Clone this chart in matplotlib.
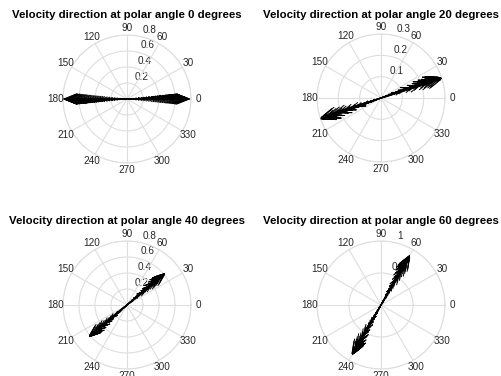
import numpy as np
import matplotlib.pyplot as plt

plt.rcParams['font.family'] = ['Liberation Sans', 'DejaVu Sans']

# polar angle of each panel and radial axis setup
polar_angles = [0, 20, 40, 60]
r_max = [0.8, 0.3, 0.8, 1.0]
r_ticks = [[0.2, 0.4, 0.6, 0.8], [0.1, 0.2, 0.3], [0.2, 0.4, 0.6, 0.8], [0.5, 1.0]]
r_ticklabels = [["0.2", "0.4", "0.6", "0.8"], ["0.1", "0.2", "0.3"],
                ["0.2", "0.4", "0.6", "0.8"], ["0.5", "1"]]
theta_ticks = [0, 30, 60, 90, 120, 150, 180, 210, 240, 270, 300, 330]

# velocity vectors: magnitude and direction (deg)
mag_0 = [0.78, 0.77, 0.76, 0.75, 0.74, 0.72, 0.71, 0.70, 0.68, 0.66, 0.64, 0.62, 0.60, 0.58,
         0.55, 0.52, 0.50, 0.47, 0.44, 0.41, 0.38, 0.34, 0.30, 0.26, 0.22, 0.18, 0.14, 0.10,
         0.06, 0.03,
         0.79, 0.78, 0.77, 0.75, 0.74, 0.73, 0.71, 0.69, 0.67, 0.65, 0.63, 0.61, 0.58, 0.56,
         0.53, 0.50, 0.47, 0.44, 0.41, 0.38, 0.35, 0.31, 0.27, 0.23, 0.19, 0.15, 0.11, 0.07,
         0.04]
dir_0 = [0] * 30 + [180] * 29

mag_20 = [0.30, 0.295, 0.29, 0.285, 0.28, 0.27, 0.26, 0.25, 0.24, 0.23, 0.21, 0.20, 0.18,
          0.17, 0.15, 0.13, 0.11, 0.09, 0.07, 0.05, 0.03,
          0.30, 0.295, 0.29, 0.28, 0.27, 0.26, 0.25, 0.235, 0.22, 0.21, 0.19, 0.18, 0.16,
          0.14, 0.12, 0.10, 0.08, 0.06, 0.04, 0.02]
dir_20 = [18, 19, 17, 20, 18, 21, 19, 17, 20, 18, 21, 19, 17, 20, 18, 22, 19, 17, 21, 20, 18,
          199, 198, 200, 197, 199, 201, 198, 200, 197, 199, 201, 198, 200, 197, 199, 202, 198,
          200, 197, 199]

mag_40 = [0.61, 0.60, 0.58, 0.57, 0.55, 0.53, 0.51, 0.49, 0.47, 0.44, 0.41, 0.38, 0.35,
          0.31, 0.27, 0.23, 0.19, 0.15, 0.11, 0.07,
          0.61, 0.60, 0.59, 0.57, 0.55, 0.53, 0.51, 0.48, 0.46, 0.43, 0.40, 0.37, 0.34,
          0.30, 0.26, 0.22, 0.18, 0.14, 0.10, 0.06]
dir_40 = [40, 39, 41, 38, 40, 42, 39, 41, 38, 40, 42, 39, 41, 40, 38, 42, 39, 41, 40, 39,
          220, 219, 221, 218, 220, 222, 219, 221, 218, 220, 222, 219, 221, 220, 218, 222, 219,
          221, 220, 219]

mag_60 = [0.89, 0.87, 0.85, 0.83, 0.81, 0.79, 0.77, 0.74, 0.71, 0.68, 0.64, 0.60, 0.55,
          0.50, 0.45, 0.40, 0.34, 0.28, 0.22, 0.16, 0.10,
          0.89, 0.88, 0.86, 0.84, 0.82, 0.80, 0.77, 0.74, 0.71, 0.67, 0.63, 0.58, 0.53,
          0.48, 0.42, 0.36, 0.30, 0.24, 0.18, 0.12, 0.06]
dir_60 = [60, 59, 61, 58, 60, 62, 59, 61, 58, 60, 61, 59, 60, 58, 61, 60, 59, 61, 60, 59, 60,
          240, 239, 241, 238, 240, 242, 239, 241, 238, 240, 241, 239, 240, 238, 241, 240, 239,
          241, 240, 239, 240]

mags = [mag_0, mag_20, mag_40, mag_60]
dirs = [dir_0, dir_20, dir_40, dir_60]

# panel centres in pixels (x from left, y from top), polar radius in pixels
W, H = 501, 376
centres = [(127, 99), (381, 98), (127, 305), (381, 305)]
R = 64
title_y = [15, 15, 221, 221]

grid_col = '#dedede'
txt_col = '#262626'

# MATLAB style compass arrow shape
arrow_x = np.array([0, 1, 0.8, 1, 0.8])
arrow_y = np.array([0, 0, 0.08, 0, -0.08])

fig = plt.figure(figsize=(W / 100, H / 100), dpi=100)

for i in range(4):
    cx, cy = centres[i]
    ax = fig.add_axes([(cx - R) / W, (H - cy - R) / H, 2 * R / W, 2 * R / H], projection='polar')
    rm = r_max[i]
    ax.set_ylim(0, rm)
    ax.set_yticks(r_ticks[i])
    ax.set_yticklabels([])
    ax.set_xticks(np.deg2rad(theta_ticks))
    ax.set_xticklabels([])
    ax.grid(True, color=grid_col, lw=0.8)
    ax.spines['polar'].set_color(grid_col)
    ax.spines['polar'].set_linewidth(0.8)
    ax.tick_params(length=0)

    for t in theta_ticks:
        ax.text(np.deg2rad(t), rm * 1.11, str(t), ha='center', va='center',
                fontsize=7.2, color=txt_col)

    for rt, lab in zip(r_ticks[i], r_ticklabels[i]):
        ax.annotate(lab, xy=(np.deg2rad(80), rt), xytext=(3.5, 1), textcoords='offset points',
                    ha='left', va='bottom', fontsize=7.2, color=txt_col, zorder=1)

    for m, d in zip(mags[i], dirs[i]):
        z = (arrow_x + 1j * arrow_y) * m * np.exp(1j * np.deg2rad(d))
        th = np.angle(z)
        th[0] = th[1]
        ax.plot(th, np.abs(z), color='k', lw=0.7, zorder=3)

    fig.text(cx / W, 1 - title_y[i] / H,
             f"Velocity direction at polar angle {polar_angles[i]} degrees",
             ha='center', va='center', fontsize=8.2, fontweight='bold', color='k')

fig.savefig('out.png', dpi=100)
